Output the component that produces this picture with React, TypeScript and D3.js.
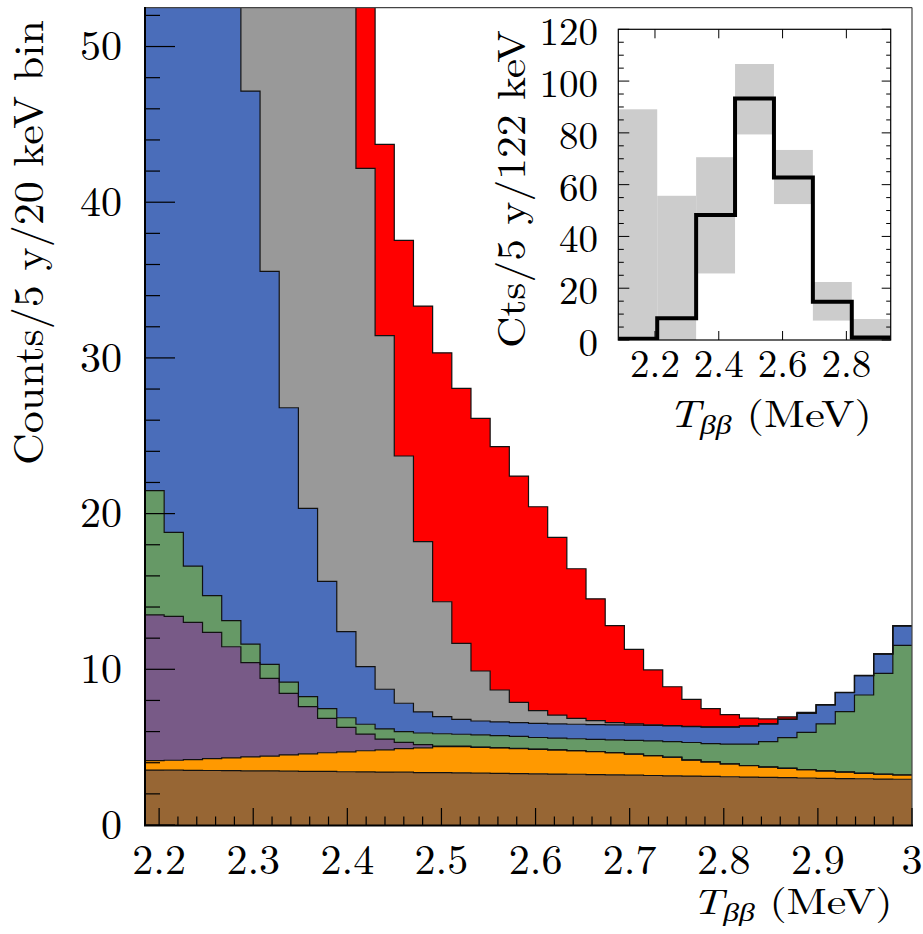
import React from 'react';
import * as d3 from 'd3';

// ---------- main histogram data (per-layer counts per 20 keV bin) ----------
const X_MIN = 2.185;
const X_MAX = 3.0;
const N_BINS = 40;

const brown = [3.53, 3.52, 3.51, 3.50, 3.49, 3.48, 3.47, 3.46, 3.45, 3.44, 3.42, 3.41, 3.40, 3.39, 3.37, 3.36, 3.35, 3.33, 3.32, 3.30,
  3.29, 3.27, 3.26, 3.24, 3.22, 3.20, 3.18, 3.16, 3.14, 3.12, 3.10, 3.08, 3.06, 3.04, 3.02, 3.00, 2.98, 2.97, 2.95, 2.94];
const orange = [0.60, 0.64, 0.69, 0.76, 0.82, 0.89, 0.96, 1.04, 1.12, 1.20, 1.28, 1.36, 1.43, 1.51, 1.59, 1.67, 1.68, 1.66, 1.63, 1.61,
  1.57, 1.55, 1.51, 1.47, 1.42, 1.35, 1.27, 1.19, 1.03, 0.93, 0.82, 0.73, 0.66, 0.60, 0.53, 0.47, 0.42, 0.35, 0.31, 0.27];
const purple = [9.36, 9.24, 8.82, 8.11, 7.14, 6.06, 4.99, 3.96, 3.03, 2.21, 1.57, 1.07, 0.69, 0.41, 0.20, 0.04, 0.03, 0.02, 0.02, 0.01,
  0.01, 0.01, 0.01, 0.01, 0.01, 0.01, 0.01, 0.01, 0.01, 0.01, 0.01, 0.01, 0.01, 0.01, 0.01, 0.01, 0.01, 0.01, 0.01, 0.01];
const green = [7.98, 5.40, 3.61, 2.36, 1.68, 1.19, 0.90, 0.72, 0.64, 0.62, 0.62, 0.63, 0.65, 0.69, 0.75, 0.79, 0.77, 0.78, 0.77, 0.77,
  0.75, 0.75, 0.76, 0.78, 0.82, 0.88, 0.94, 0.99, 1.12, 1.17, 1.27, 1.38, 1.62, 1.96, 2.39, 3.01, 3.87, 5.02, 6.47, 8.32];
const blue = [128.5, 101.2, 78.4, 60.3, 46.9, 35.52, 25.24, 17.62, 12.10, 8.18, 5.53, 3.70, 2.55, 1.82, 1.35, 1.10, 0.96, 0.89, 0.88, 0.89,
  0.91, 0.92, 0.93, 0.95, 0.96, 0.97, 0.99, 1.01, 1.01, 1.06, 1.09, 1.16, 1.14, 1.18, 1.22, 1.22, 1.22, 1.24, 1.24, 1.24];
const gray = [60, 60, 60, 60, 50, 37.86, 39.44, 41.2, 42.66, 43.35, 42.58, 32.00, 22.71, 15.88, 10.94, 7.38, 4.88, 3.21, 2.05, 1.30,
  0.81, 0.56, 0.38, 0.25, 0.14, 0.08, 0.05, 0.03, 0.02, 0.01, 0.01, 0.01, 0.01, 0.01, 0.01, 0.01, 0.01, 0.01, 0.01, 0.01];
const red = [40, 40, 40, 40, 40, 30, 30, 30, 25, 25, 20, 15.83, 12.29, 13.85, 15.13, 15.99, 16.38, 16.23, 15.63, 14.53,
  13.10, 11.41, 9.61, 7.83, 6.23, 4.79, 3.52, 2.49, 1.74, 1.17, 0.79, 0.50, 0.31, 0.14, 0.05, 0.02, 0.01, 0.01, 0.01, 0.01];

const layerKeys = ['brown', 'orange', 'purple', 'green', 'blue', 'gray', 'red'];
const layerColors: Record<string, string> = {
  brown: '#976634', orange: '#ff9900', purple: '#785a87', green: '#669966',
  blue: '#4a6dba', gray: '#999999', red: '#ff0000',
};

const xTickValues = [2.2, 2.3, 2.4, 2.5, 2.6, 2.7, 2.8, 2.9, 3.0];
const xTickLabels = ['2.2', '2.3', '2.4', '2.5', '2.6', '2.7', '2.8', '2.9', '3'];
const yTickValues = [0, 10, 20, 30, 40, 50];

// ---------- inset data (122 keV bins) ----------
const INSET_X_MIN = 2.085;
const INSET_BIN = 0.122;
const insetBandLow = [0, 0, 25.7, 79.4, 52.5, 7.5, 0];
const insetBandHigh = [89.1, 55.7, 70.6, 106.6, 73.4, 22.4, 8.1];
const insetCounts = [0.5, 8.4, 48.3, 93.3, 62.8, 14.8, 1.0];
const insetXTicks = [2.2, 2.4, 2.6, 2.8];
const insetYTicks = [0, 20, 40, 60, 80, 100, 120];

const FONT = '"Latin Modern Roman", "Liberation Serif", serif';

export default function App() {
  // main plot
  const x = d3.scaleLinear().domain([X_MIN, X_MAX]).range([145, 912]);
  const y = d3.scaleLinear().domain([0, 52.5]).range([825, 7.6]);
  const binW = (X_MAX - X_MIN) / N_BINS;
  const edges = d3.range(N_BINS + 1).map((i) => X_MIN + i * binW);

  const series: Record<string, number[]> = { brown, orange, purple, green, blue, gray, red };
  const rows = d3.range(N_BINS).map((i) => {
    const r: Record<string, number> = {};
    layerKeys.forEach((k) => (r[k] = series[k][i]));
    return r;
  });
  const stacked = d3.stack<Record<string, number>>().keys(layerKeys)(rows);

  const area = d3
    .area<[number, number]>()
    .x((_, i) => x(edges[i]))
    .y0((d) => y(d[0]))
    .y1((d) => y(d[1]))
    .curve(d3.curveStepAfter);
  const line = d3
    .line<[number, number]>()
    .x((_, i) => x(edges[i]))
    .y((d) => y(d[1]))
    .curve(d3.curveStepAfter);

  const layers = stacked.map((s) => {
    const pts: [number, number][] = s.map((d) => [d[0], d[1]]);
    pts.push(pts[pts.length - 1]);
    return { key: s.key, pts };
  });

  const xMinor = d3.range(0, 41).map((i) => ({ v: 2.2 + i * 0.02, major: i % 5 === 0 }));
  const yMinor = d3.range(0, 27).map((i) => ({ v: i * 2, major: i % 5 === 0 }));

  // inset
  const ix = d3.scaleLinear().domain([INSET_X_MIN, INSET_X_MIN + 7 * INSET_BIN]).range([618.3, 890.7]);
  const iy = d3.scaleLinear().domain([0, 120]).range([340, 29.3]);
  const iEdges = d3.range(8).map((i) => INSET_X_MIN + i * INSET_BIN);
  const iPts: number[] = [...insetCounts, insetCounts[insetCounts.length - 1]];
  const iLine = d3
    .line<number>()
    .x((_, i) => ix(iEdges[i]))
    .y((d) => iy(d))
    .curve(d3.curveStepAfter);
  const iYMinor = d3.range(0, 25).map((i) => ({ v: i * 5, major: i % 4 === 0 }));

  return (
    <svg
      width={923}
      height={934}
      style={{ position: 'absolute', left: 0, top: 0, background: '#fff', fontFamily: FONT }}
    >
      <defs>
        <clipPath id="mainClip">
          <rect x={145} y={7.6} width={767} height={818} />
        </clipPath>
        <clipPath id="insetClip">
          <rect x={618.3} y={29.3} width={272.4} height={310.7} />
        </clipPath>
      </defs>
      <rect x={0} y={0} width={923} height={934} fill="#fff" />

      {/* stacked histogram */}
      <g clipPath="url(#mainClip)">
        {layers.map((l) => (
          <path key={'a' + l.key} d={area(l.pts) || ''} fill={layerColors[l.key]} stroke="none" />
        ))}
        {layers.map((l) => (
          <path key={'l' + l.key} d={line(l.pts) || ''} fill="none" stroke="#111" strokeWidth={1.2} />
        ))}
      </g>

      {/* frame */}
      <line x1={145} x2={912} y1={7.6} y2={7.6} stroke="#444" strokeWidth={1.2} />
      <line x1={912} x2={912} y1={7.6} y2={826} stroke="#444" strokeWidth={1.2} />
      <line x1={145} x2={145} y1={7} y2={826} stroke="#000" strokeWidth={2} />
      <line x1={144} x2={913} y1={825.5} y2={825.5} stroke="#000" strokeWidth={2.2} />

      {/* x ticks */}
      {xMinor.map((t, i) => (
        <line key={'xt' + i} x1={x(t.v)} x2={x(t.v)} y1={825} y2={825 - (t.major ? 17 : 8.5)} stroke="#000" strokeWidth={1.2} />
      ))}
      {/* y ticks */}
      {yMinor.map((t, i) => (
        <line key={'yt' + i} x1={145} x2={145 + (t.major ? 30 : 15)} y1={y(t.v)} y2={y(t.v)} stroke="#000" strokeWidth={1.2} />
      ))}

      {/* x tick labels */}
      {xTickValues.map((v, i) => (
        <text key={'xl' + i} x={x(v)} y={874} fontSize={42} textAnchor="middle" fill="#000">
          {xTickLabels[i]}
        </text>
      ))}
      {/* y tick labels */}
      {yTickValues.map((v) => (
        <text key={'yl' + v} x={122} y={y(v)} dy="0.33em" fontSize={42} textAnchor="end" fill="#000">
          {v}
        </text>
      ))}

      {/* axis titles */}
      <text
        transform="translate(43,465) rotate(-90)"
        fontSize={42}
        textLength={445}
        lengthAdjust="spacingAndGlyphs"
        fill="#000"
      >
        Counts/5 y/20 keV bin
      </text>
      <text x={691.7} y={914} fontSize={36} textLength={201} lengthAdjust="spacingAndGlyphs" fill="#000">
        <tspan fontStyle="italic">T</tspan>
        <tspan fontStyle="italic" fontSize={26} dy={7}>ββ</tspan>
        <tspan dy={-7}> (MeV)</tspan>
      </text>

      {/* inset */}
      <rect x={618.3} y={29.3} width={272.4} height={310.7} fill="#fff" />
      <g clipPath="url(#insetClip)">
        {insetBandHigh.map((h, i) => (
          <rect
            key={'band' + i}
            x={ix(iEdges[i])}
            width={ix(iEdges[i + 1]) - ix(iEdges[i])}
            y={iy(h)}
            height={iy(insetBandLow[i]) - iy(h)}
            fill="#cccccc"
          />
        ))}
        <path d={iLine(iPts) || ''} fill="none" stroke="#000" strokeWidth={4} />
      </g>
      {/* inset ticks */}
      {iYMinor.map((t, i) => (
        <g key={'iyt' + i}>
          <line x1={618.3} x2={618.3 + (t.major ? 11 : 5.5)} y1={iy(t.v)} y2={iy(t.v)} stroke="#000" strokeWidth={1} />
          <line x1={890.7} x2={890.7 - (t.major ? 9 : 4.5)} y1={iy(t.v)} y2={iy(t.v)} stroke="#000" strokeWidth={1} />
        </g>
      ))}
      {insetXTicks.map((v) => (
        <g key={'ixt' + v}>
          <line x1={ix(v)} x2={ix(v)} y1={340} y2={331} stroke="#000" strokeWidth={1} />
          <line x1={ix(v)} x2={ix(v)} y1={29.3} y2={38.3} stroke="#000" strokeWidth={1} />
        </g>
      ))}
      <rect x={618.3} y={29.3} width={272.4} height={310.7} fill="none" stroke="#000" strokeWidth={1.2} />

      {/* inset labels */}
      {insetXTicks.map((v) => (
        <text key={'ixl' + v} x={ix(v)} y={376.5} fontSize={39} textAnchor="middle" fill="#000">
          {v.toFixed(1)}
        </text>
      ))}
      {insetYTicks.map((v) => (
        <text key={'iyl' + v} x={598} y={iy(v) + 3} dy="0.33em" fontSize={39} textAnchor="end" fill="#000">
          {v}
        </text>
      ))}
      <text
        transform="translate(525,348) rotate(-90)"
        fontSize={40}
        textLength={318}
        lengthAdjust="spacingAndGlyphs"
        fill="#000"
      >
        Cts/5 y/122 keV
      </text>
      <text x={668} y={427} fontSize={38} textLength={204} lengthAdjust="spacingAndGlyphs" fill="#000">
        <tspan fontStyle="italic">T</tspan>
        <tspan fontStyle="italic" fontSize={27} dy={7}>ββ</tspan>
        <tspan dy={-7}> (MeV)</tspan>
      </text>
    </svg>
  );
}
